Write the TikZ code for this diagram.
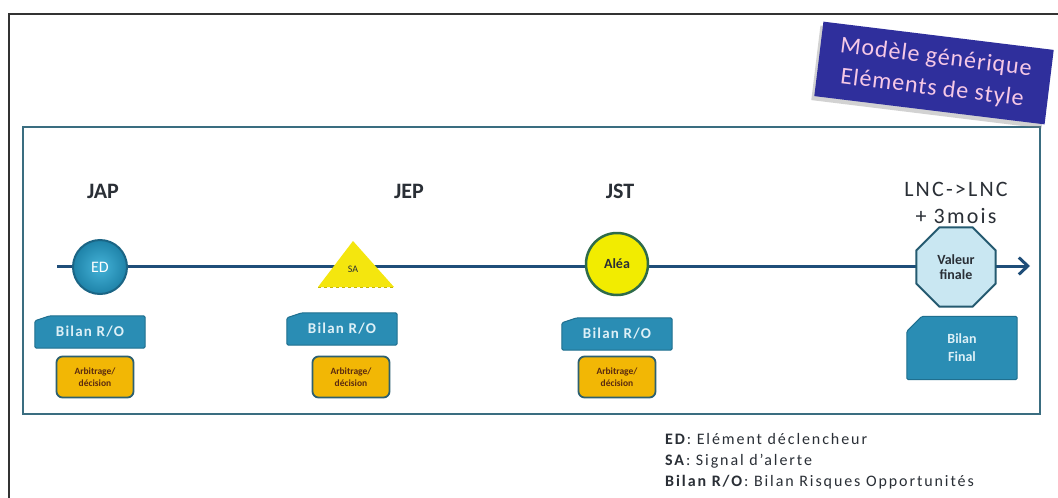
\documentclass[tikz,border=0pt]{standalone}
\usepackage{fontspec}
\setmainfont{Carlito}
\usetikzlibrary{shapes.geometric,arrows.meta,shadows}
\pgfdeclarelayer{background}
\pgfdeclarelayer{canvas}
\pgfsetlayers{canvas,background,main}
\definecolor{framegray}{HTML}{333333}
\definecolor{boxedge}{HTML}{3A6D80}
\definecolor{titleblue}{HTML}{2F2F9C}
\definecolor{titletext}{HTML}{F6C8E6}
\definecolor{lineblue}{HTML}{1F4E79}
\definecolor{edin}{HTML}{45B3D8}
\definecolor{edout}{HTML}{1E82A8}
\definecolor{eddraw}{HTML}{1B6585}
\definecolor{sayellow}{HTML}{F4E60E}
\definecolor{saedge}{HTML}{C8B800}
\definecolor{aleayellow}{HTML}{F2EC00}
\definecolor{aleagreen}{HTML}{2E6B4A}
\definecolor{octfill}{HTML}{C9E7F2}
\definecolor{octdraw}{HTML}{245A70}
\definecolor{bilanfill}{HTML}{2A8DB4}
\definecolor{bilandraw}{HTML}{1F6F8F}
\definecolor{bilantext}{HTML}{DDF0F7}
\definecolor{arbfill}{HTML}{F2B705}
\definecolor{arbdraw}{HTML}{2D6070}
\definecolor{arbtext}{HTML}{5A2A10}
\definecolor{darktext}{HTML}{2A2F36}
\tikzset{
  phase/.style={font=\fontsize{22}{26}\selectfont\bfseries, text=darktext, align=center, inner sep=0pt},
  bilan/.style={minimum width=110pt, minimum height=32pt, inner sep=0pt, text=bilantext,
    font=\fontsize{15}{17}\selectfont\bfseries\addfontfeatures{LetterSpace=8}},
  bilanshape/.style={fill=bilanfill, draw=bilandraw, line width=1pt, rounded corners=1.5pt},
  arb/.style={rounded corners=6pt, minimum width=77pt, minimum height=41pt, inner sep=0pt,
    fill=arbfill, draw=arbdraw, line width=1.8pt, text=arbtext, align=center,
    font=\fontsize{9.5}{12}\selectfont\bfseries},
  legend/.style={anchor=west, inner sep=0pt, text=darktext,
    font=\fontsize{16}{18}\selectfont\addfontfeatures{LetterSpace=12}},
  timeline/.style={draw=lineblue, line width=3pt, -{Straight Barb[length=9pt,width=17pt]}}
}
\begin{document}
\begin{tikzpicture}[x=1pt,y=-1pt]
\useasboundingbox (0,0) rectangle (1058,498);
\begin{pgfonlayer}{canvas}
\fill[white] (0,0) rectangle (1058,498);
\end{pgfonlayer}
% frames
\draw[framegray, line width=1.6pt] (9,498) -- (9,14) -- (1058,14);
\draw[boxedge, line width=1.6pt] (23,127) rectangle (1040,414);
% title
\node[rotate=-7, fill=titleblue, minimum width=232pt, minimum height=75pt, align=center,
  text=titletext, font=\fontsize{24}{31}\selectfont\addfontfeatures{LetterSpace=4},
  drop shadow={shadow xshift=-3pt, shadow yshift=-4pt, fill=gray, opacity=0.35}] (title) at (934,73)
  {Modèle générique\\Eléments de style};
% phase labels
\node[phase] (jap) at (103,191) {JAP};
\node[phase] (jep) at (409,191) {JEP};
\node[phase] (jst) at (620,191) {JST};
\node[phase, font=\fontsize{22}{27}\selectfont\addfontfeatures{LetterSpace=10}] (lnc) at (956,203) {LNC->LNC\\+ 3mois};
% timeline
\coordinate (tstart) at (57,266);
\coordinate (tend) at (1030,266);
\begin{pgfonlayer}{background}
\draw[timeline] (tstart) -- (tend);
\end{pgfonlayer}
% events
\node[circle, minimum size=54pt, inner color=edin, outer color=edout, draw=eddraw, line width=2pt,
  text=white, font=\fontsize{16}{18}\selectfont] (ed) at (100,267) {ED};
\coordinate (sa1) at (318,287);
\coordinate (sa2) at (353,241);
\coordinate (sa3) at (394,287);
\fill[sayellow] (sa1) -- (sa2) -- (sa3) -- cycle;
\draw[saedge, dashed, line width=1pt] (sa1) -- (sa3);
\node[font=\fontsize{10}{12}\selectfont, text=darktext, inner sep=0pt] (sa) at (353,269) {SA};
\node[circle, minimum size=62pt, fill=aleayellow, draw=aleagreen, line width=2.5pt,
  text=darktext, font=\fontsize{14}{16}\selectfont\bfseries] (alea) at (617,264) {Aléa};
\node[regular polygon, regular polygon sides=8, minimum size=86pt, inner sep=0pt, fill=octfill,
  draw=octdraw, line width=2pt, align=center, text=darktext,
  font=\fontsize{14}{15}\selectfont\bfseries] (vf) at (956,267) {Valeur\\finale};
% bilan boxes
\node[bilan] (b1) at (90,332) {Bilan R/O};
\node[bilan] (b2) at (342,329) {Bilan R/O};
\node[bilan] (b3) at (617,334) {Bilan R/O};
\node[bilan, minimum height=63pt, align=center, font=\fontsize{14}{18}\selectfont\bfseries] (bf) at (962,348) {Bilan\\Final};
\begin{pgfonlayer}{background}
\foreach \b in {b1,b2,b3}{
  \path[bilanshape] ([yshift=-5pt]\b.north west) -- ([xshift=15pt]\b.north west) -- (\b.north east)
    -- (\b.south east) -- (\b.south west) -- cycle;
}
\path[bilanshape] ([yshift=-15pt]bf.north west) -- ([xshift=15pt]bf.north west) -- (bf.north east)
    -- (bf.south east) -- (bf.south west) -- cycle;
\end{pgfonlayer}
% arbitrage boxes
\node[arb] (a1) at (95,377) {Arbitrage/\\décision};
\node[arb] (a2) at (351,377) {Arbitrage/\\décision};
\node[arb] (a3) at (617,377) {Arbitrage/\\décision};
% legend
\node[legend] (l1) at (665,439) {\textbf{ED}: Elément déclencheur};
\node[legend] (l2) at (665,461) {\textbf{SA}: Signal d'alerte};
\node[legend] (l3) at (665,482) {\textbf{Bilan R/O}: Bilan Risques Opportunités};
\end{tikzpicture}
\end{document}
